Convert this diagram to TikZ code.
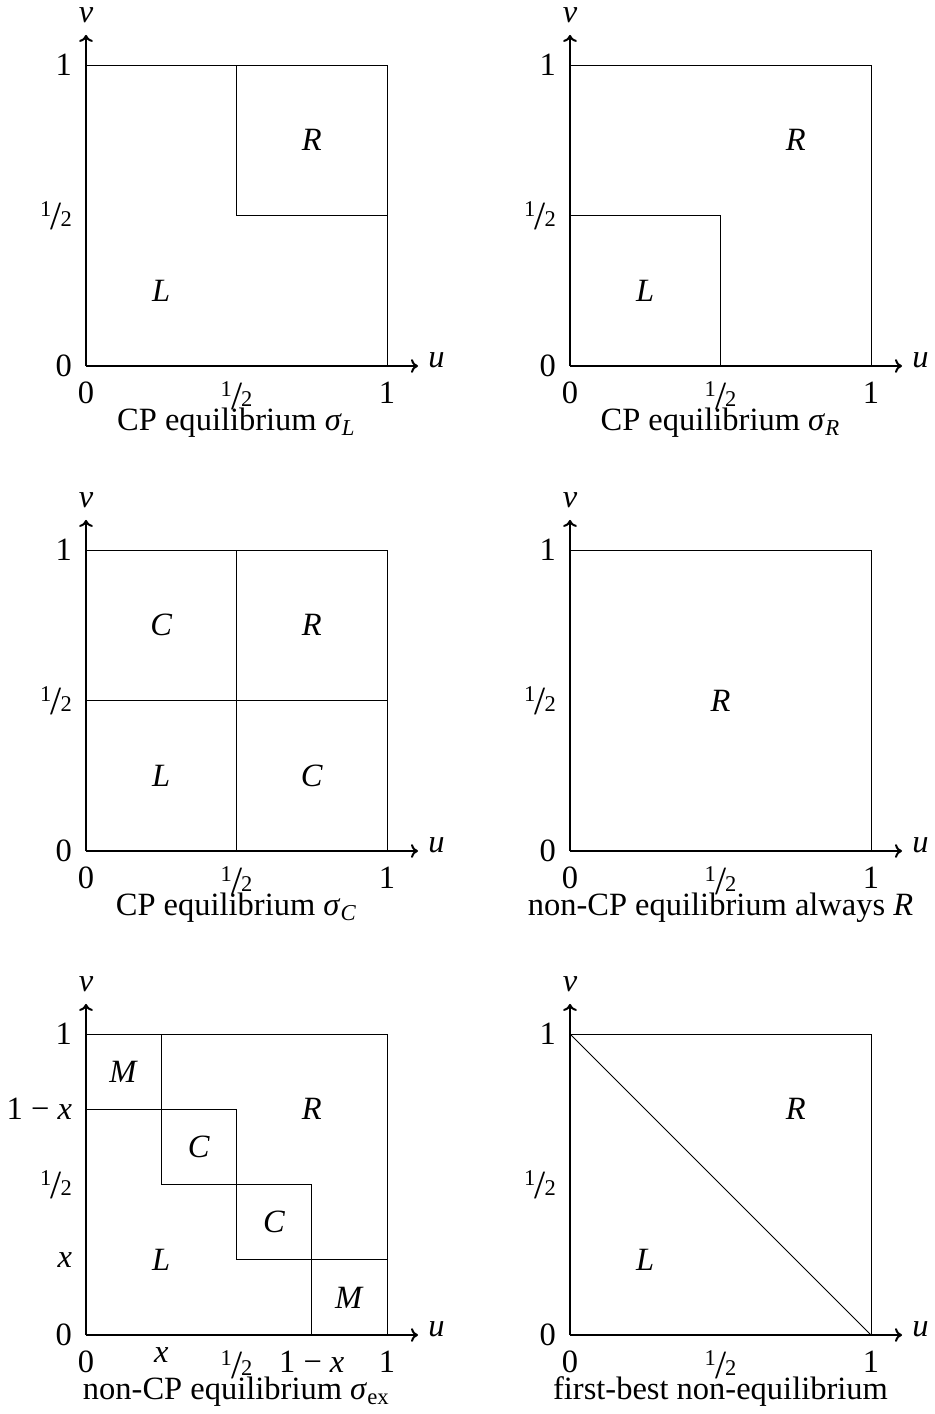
\documentclass[tikz,border=0pt]{standalone}
\usepackage{fontspec}
\setmainfont{Liberation Serif}
\usetikzlibrary{arrows.meta}
\newcommand\hf{{{\fontsize{9}{9}\selectfont\raisebox{4pt}{1}}\kern-0.2pt\raisebox{-1.2pt}{\fontsize{16}{16}\selectfont/}\kern-0.5pt{\fontsize{9}{9}\selectfont 2}}}
\newcommand\mi[1]{\textit{#1}}
\newcommand\omx{1\kern0.25em−\kern0.25em\textit{x}}
\newcommand\panelaxes[1]{%
  \coordinate (#1o) at (0,0);
  \coordinate (#1x) at (1.103,0);
  \coordinate (#1y) at (0,1.10);
  \draw[axis] (#1o) -- (#1x);
  \draw[axis] (#1o) -- (#1y);
  \node[anchor=base west,inner sep=0] (#1u) at (1.136,-0.005) {\mi{u}};
  \node[anchor=base,inner sep=0] (#1v) at (0,1.14) {\mi{v}};}
\newcommand\lefttick[3]{\node[anchor=east,inner sep=0] (#1) at (-0.045,#2) {#3};}
\newcommand\bottick[3]{\node[anchor=north,inner sep=0] (#1) at (#2,-0.05) {#3};}
\newcommand\stdticks[1]{%
  \lefttick{#1l1}{1}{1}\lefttick{#1lh}{0.5}{\hf}\lefttick{#1l0}{0}{0}%
  \bottick{#1b0}{0}{0}\bottick{#1bh}{0.5}{\hf}\bottick{#1b1}{1}{1}}
\newcommand\pcap[2]{\node[anchor=base,inner sep=0] (#1cap) at (0.5,-0.215) {#2};}
\begin{document}
\begin{tikzpicture}[x=0.4pt,y=-0.4pt,font=\fontsize{13}{15}\selectfont,
  axis/.style={line width=0.8pt,-{To[length=2.8pt,width=5.5pt]}},
  region/.style={line width=0.4pt},
  lab/.style={inner sep=0}]
\useasboundingbox (0,0) rectangle (934,1414);
% Panel 1
\begin{scope}[shift={(86,366)},x=120.4pt,y=120.4pt]
  \draw[region] (0,0) rectangle (1,1);
  \draw[region] (0.5,1) -- (0.5,0.5) -- (1,0.5);
  \panelaxes{a}\stdticks{a}
  \node[lab] (aR) at (0.75,0.75) {\mi{R}};
  \node[lab] (aL) at (0.25,0.25) {\mi{L}};
  \pcap{a}{CP equilibrium \mi{σ}\textsubscript{\mi{L}}}
\end{scope}
% Panel 2
\begin{scope}[shift={(570,366)},x=120.4pt,y=120.4pt]
  \draw[region] (0,0) rectangle (1,1);
  \draw[region] (0,0.5) -- (0.5,0.5) -- (0.5,0);
  \panelaxes{b}\stdticks{b}
  \node[lab] (bR) at (0.75,0.75) {\mi{R}};
  \node[lab] (bL) at (0.25,0.25) {\mi{L}};
  \pcap{b}{CP equilibrium \mi{σ}\textsubscript{\mi{R}}}
\end{scope}
% Panel 3
\begin{scope}[shift={(86,851)},x=120.4pt,y=120.4pt]
  \draw[region] (0,0) rectangle (1,1);
  \draw[region] (0.5,0) -- (0.5,1);
  \draw[region] (0,0.5) -- (1,0.5);
  \panelaxes{c}\stdticks{c}
  \node[lab] (cC1) at (0.25,0.75) {\mi{C}};
  \node[lab] (cR) at (0.75,0.75) {\mi{R}};
  \node[lab] (cL) at (0.25,0.25) {\mi{L}};
  \node[lab] (cC2) at (0.75,0.25) {\mi{C}};
  \pcap{c}{CP equilibrium \mi{σ}\textsubscript{\mi{C}}}
\end{scope}
% Panel 4
\begin{scope}[shift={(570,851)},x=120.4pt,y=120.4pt]
  \draw[region] (0,0) rectangle (1,1);
  \panelaxes{d}\stdticks{d}
  \node[lab] (dR) at (0.5,0.5) {\mi{R}};
  \pcap{d}{non-CP equilibrium always \mi{R}}
\end{scope}
% Panel 5
\begin{scope}[shift={(86,1335)},x=120.4pt,y=120.4pt]
  \draw[region] (0,0) rectangle (1,1);
  \draw[region] (0.25,1) -- (0.25,0.5) -- (0.75,0.5) -- (0.75,0);
  \draw[region] (0,0.75) -- (0.5,0.75) -- (0.5,0.25) -- (1,0.25);
  \panelaxes{e}
  \lefttick{el1}{1}{1}\lefttick{elomx}{0.75}{\omx}\lefttick{elh}{0.5}{\hf}
  \lefttick{elx}{0.25}{\mi{x}}\lefttick{el0}{0}{0}
  \bottick{eb0}{0}{0}\bottick{ebh}{0.5}{\hf}
  \bottick{ebomx}{0.75}{\omx}\bottick{eb1}{1}{1}
  \node[anchor=north,inner sep=0] (ebx) at (0.25,-0.04) {\mi{x}};
  \node[lab] (eM1) at (0.125,0.875) {\mi{M}};
  \node[lab] (eR) at (0.75,0.75) {\mi{R}};
  \node[lab] (eC1) at (0.375,0.625) {\mi{C}};
  \node[lab] (eC2) at (0.625,0.375) {\mi{C}};
  \node[lab] (eL) at (0.25,0.25) {\mi{L}};
  \node[lab] (eM2) at (0.875,0.125) {\mi{M}};
  \pcap{e}{non-CP equilibrium \mi{σ}\textsubscript{ex}}
\end{scope}
% Panel 6
\begin{scope}[shift={(570,1335)},x=120.4pt,y=120.4pt]
  \draw[region] (0,0) rectangle (1,1);
  \draw[region] (0,1) -- (1,0);
  \panelaxes{f}\stdticks{f}
  \node[lab] (fR) at (0.75,0.75) {\mi{R}};
  \node[lab] (fL) at (0.25,0.25) {\mi{L}};
  \pcap{f}{first-best non-equilibrium}
\end{scope}
\end{tikzpicture}
\end{document}
